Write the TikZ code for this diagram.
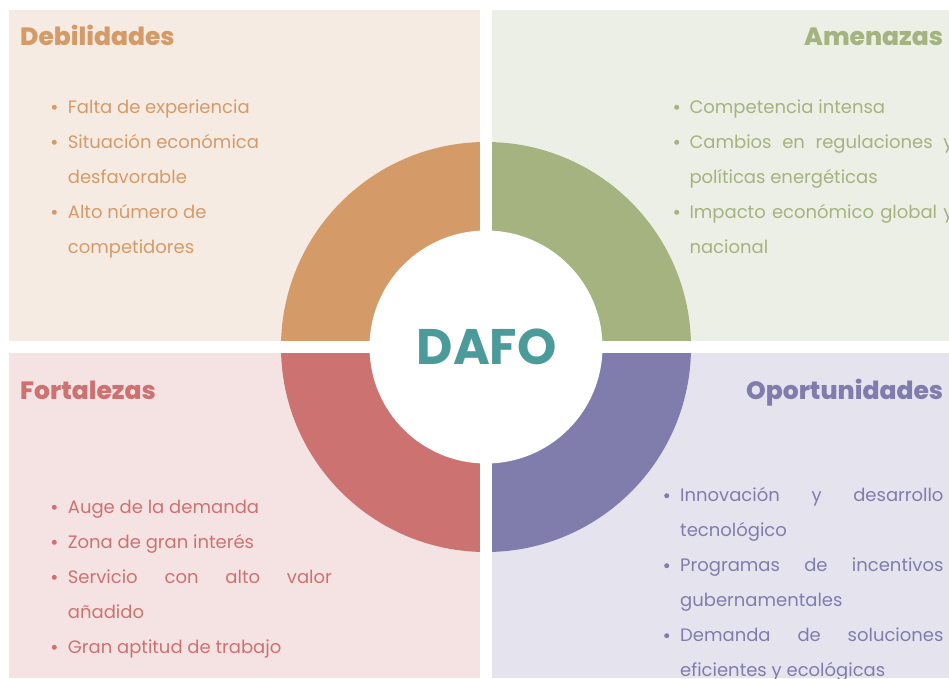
\documentclass[tikz,border=0pt]{standalone}
\usepackage{fontspec}
\setmainfont{Poppins}
\newfontfamily\headfont{Poppins ExtraBold}
\usepackage{xcolor}
% quadrant colours: ring / text colour and pale panel colour
\definecolor{debC}{HTML}{D49B68}
\definecolor{debBg}{HTML}{F6EBE2}
\definecolor{amC}{HTML}{A4B37F}
\definecolor{amBg}{HTML}{ECEFE5}
\definecolor{forC}{HTML}{CC7371}
\definecolor{forBg}{HTML}{F5E2E3}
\definecolor{opC}{HTML}{807DAC}
\definecolor{opBg}{HTML}{E5E3EE}
\definecolor{dafoC}{HTML}{4A9B99}
\begin{document}
\begin{tikzpicture}[x=1pt,y=-1pt,
  body/.style={anchor=base west, inner sep=0pt, font=\fontsize{18}{21}\selectfont},
  heading/.style={inner sep=0pt, font=\fontsize{25}{30}\selectfont\headfont},
  dot/.style={circle, inner sep=0pt, minimum size=5pt},
]
\useasboundingbox (0,0) rectangle (949,678);
\fill[white] (0,0) rectangle (949,678);

% four background panels
\fill[debBg] (9,10) rectangle (480,341);
\fill[amBg] (492,10) rectangle (949,341);
\fill[forBg] (9,353) rectangle (480,678);
\fill[opBg] (492,353) rectangle (949,678);

% ring split into four coloured quarters
\coordinate (C) at (486,347);
\begin{scope}\clip (0,0) rectangle (486,347); \fill[debC] (C) circle[radius=205pt];\end{scope}
\begin{scope}\clip (486,0) rectangle (949,347); \fill[amC] (C) circle[radius=205pt];\end{scope}
\begin{scope}\clip (0,347) rectangle (486,678); \fill[forC] (C) circle[radius=205pt];\end{scope}
\begin{scope}\clip (486,347) rectangle (949,678); \fill[opC] (C) circle[radius=205pt];\end{scope}

% white cross separating the quadrants
\fill[white] (480,0) rectangle (492,678);
\fill[white] (0,341) rectangle (949,353);

% centre disc with the title
\node[circle, fill=white, minimum size=233pt, inner sep=0pt] (core) at (C) {};
\node[inner sep=0pt, text=dafoC, font=\fontsize{50}{52}\selectfont\bfseries] (dafo) at (486.7,347) {DAFO};

% headings
\node[heading, anchor=base west, text=debC] (hdeb) at (20,45.7) {Debilidades};
\node[heading, anchor=base east, text=amC] (ham) at (943.3,45.7) {Amenazas};
\node[heading, anchor=base west, text=forC] (hfor) at (20,399.3) {Fortalezas};
\node[heading, anchor=base east, text=opC] (hop) at (943.3,399.3) {Oportunidades};

% Debilidades
\begin{scope}[text=debC]
\node[dot, fill=debC] (db1) at (54.3,107.3) {};
\node[dot, fill=debC] (db2) at (54.3,142.3) {};
\node[dot, fill=debC] (db3) at (54.3,212.3) {};
\node[body] (d1) at (67.7,113.3) {Falta de experiencia};
\node[body] (d2) at (67.7,148.3) {Situación económica};
\node[body] (d3) at (67.7,183.3) {desfavorable};
\node[body] (d4) at (67.7,218.3) {Alto número de};
\node[body] (d5) at (67.7,253.3) {competidores};
\end{scope}

% Amenazas
\begin{scope}[text=amC]
\node[dot, fill=amC] (ab1) at (676.7,107.3) {};
\node[dot, fill=amC] (ab2) at (676.7,142.3) {};
\node[dot, fill=amC] (ab3) at (676.7,212.3) {};
\node[body] (a1) at (689.3,113.3) {Competencia intensa};
\node[body] (a2) at (689.3,148.3) {\makebox[264pt][s]{Cambios en regulaciones y}};
\node[body] (a3) at (689.3,183.3) {políticas energéticas};
\node[body] (a4) at (689.3,218.3) {\makebox[264pt][s]{Impacto económico global y}};
\node[body] (a5) at (689.3,253.3) {nacional};
\end{scope}

% Fortalezas
\begin{scope}[text=forC]
\node[dot, fill=forC] (fb1) at (54.3,507.3) {};
\node[dot, fill=forC] (fb2) at (54.3,542.3) {};
\node[dot, fill=forC] (fb3) at (54.3,577.3) {};
\node[dot, fill=forC] (fb4) at (54.3,647.3) {};
\node[body] (f1) at (67.7,513.3) {Auge de la demanda};
\node[body] (f2) at (67.7,548.3) {Zona de gran interés};
\node[body] (f3) at (67.7,583.3) {\makebox[264pt][s]{Servicio con alto valor}};
\node[body] (f4) at (67.7,618.3) {añadido};
\node[body] (f5) at (67.7,653.3) {Gran aptitud de trabajo};
\end{scope}

% Oportunidades
\begin{scope}[text=opC]
\node[dot, fill=opC] (ob1) at (666.7,495.7) {};
\node[dot, fill=opC] (ob2) at (666.7,565.7) {};
\node[dot, fill=opC] (ob3) at (666.7,635.7) {};
\node[body] (o1) at (680,501.7) {\makebox[263.3pt][s]{Innovación y desarrollo}};
\node[body] (o2) at (680,536.7) {tecnológico};
\node[body] (o3) at (680,571.7) {\makebox[263.3pt][s]{Programas de incentivos}};
\node[body] (o4) at (680,606.7) {gubernamentales};
\node[body] (o5) at (680,641.7) {\makebox[263.3pt][s]{Demanda de soluciones}};
\node[body] (o6) at (680,676.7) {eficientes y ecológicas};
\end{scope}
\end{tikzpicture}
\end{document}
